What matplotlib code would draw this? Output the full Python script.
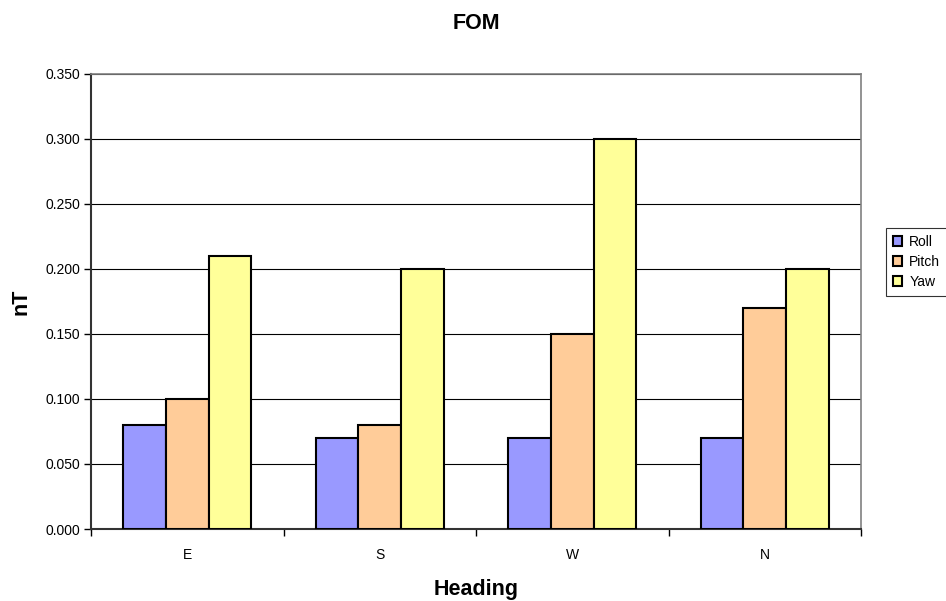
import matplotlib
matplotlib.use("Agg")
import matplotlib.pyplot as plt
import numpy as np

headings = ["E", "S", "W", "N"]
roll = [0.080, 0.070, 0.070, 0.070]
pitch = [0.100, 0.080, 0.150, 0.170]
yaw = [0.210, 0.200, 0.300, 0.200]
series_names = ["Roll", "Pitch", "Yaw"]
series_colors = ["#9999FF", "#FFCC99", "#FFFF99"]
yticks = [0.0, 0.05, 0.10, 0.15, 0.20, 0.25, 0.30, 0.35]

plt.rcParams["font.family"] = ["Liberation Sans", "DejaVu Sans"]

fig = plt.figure(figsize=(9.46, 6.01), dpi=100)
ax = fig.add_axes([0.0962, 0.1198, 0.8140, 0.7572])

x = np.arange(len(headings))
width = 1.0 / 4.5
for i, (vals, name, col) in enumerate(zip([roll, pitch, yaw], series_names, series_colors)):
    ax.bar(x + (i - 1) * width, vals, width, color=col, edgecolor="black",
           linewidth=1.5, label=name, zorder=3)

ax.set_xlim(-0.5, len(headings) - 0.5)
ax.set_ylim(0, 0.35)
ax.set_yticks(yticks)
ax.set_yticklabels([f"{v:.3f}" for v in yticks], fontsize=10)
ax.yaxis.grid(True, color="black", linewidth=0.8, zorder=0)

ax.set_xticks(x)
ax.set_xticklabels(headings, fontsize=10)
ax.tick_params(axis="x", length=0, pad=14)
ax.set_xticks(np.arange(len(headings) + 1) - 0.5, minor=True)
ax.tick_params(axis="x", which="minor", length=5, width=1, direction="out")
ax.tick_params(axis="y", length=5, width=1, direction="out", pad=3)

for side in ["top", "right"]:
    ax.spines[side].set_color("#808080")
    ax.spines[side].set_linewidth(1.2)
for side in ["left", "bottom"]:
    ax.spines[side].set_color("#333333")
    ax.spines[side].set_linewidth(1.5)

ax.set_title("FOM", fontsize=15.5, fontweight="bold", pad=32)
ax.set_xlabel("Heading", fontsize=15.5, fontweight="bold", labelpad=12)
ax.set_ylabel("nT", fontsize=15.5, fontweight="bold", labelpad=10)

leg = ax.legend(loc="upper left", bbox_to_anchor=(1.032, 0.662), fontsize=10,
                frameon=True, fancybox=False, edgecolor="black",
                handlelength=0.7, handleheight=0.7, handletextpad=0.5,
                borderpad=0.5, labelspacing=0.45, borderaxespad=0)
leg.get_frame().set_linewidth(0.8)

fig.savefig("out.png", dpi=100)
